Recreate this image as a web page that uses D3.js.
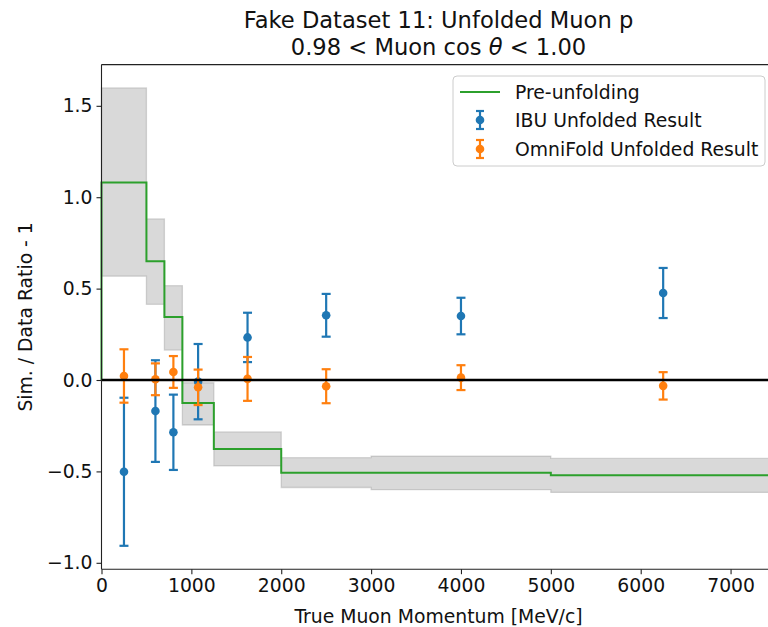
<!DOCTYPE html>
<html><head><meta charset="utf-8">
<script src="https://cdn.jsdelivr.net/npm/d3@7"></script>
<style>body{margin:0;background:#fff}svg{display:block}text{font-family:"DejaVu Sans",sans-serif}</style>
</head><body>
<svg id="c" width="768" height="627"></svg>
<script>
const edges = [0, 500, 700, 900, 1250, 2000, 3000, 5000, 7500];
const preUnfold = [1.08, 0.65, 0.345, -0.126, -0.378, -0.507, -0.507, -0.521];
const bandLow  = [0.568, 0.414, 0.164, -0.246, -0.470, -0.588, -0.600, -0.615];
const bandHigh = [1.598, 0.881, 0.516, -0.015, -0.284, -0.425, -0.416, -0.429];
const centers = [250, 600, 800, 1075, 1625, 2500, 4000, 6250];
const ibuVal = [-0.502, -0.170, -0.286, -0.009, 0.233, 0.354, 0.350, 0.476];
const ibuErr = [0.405, 0.278, 0.206, 0.206, 0.135, 0.117, 0.100, 0.137];
const omniVal = [0.022, 0.004, 0.044, -0.040, 0.006, -0.034, 0.013, -0.032];
const omniErr = [0.146, 0.087, 0.087, 0.097, 0.120, 0.093, 0.068, 0.075];
const xTicks = [0, 1000, 2000, 3000, 4000, 5000, 6000, 7000];
const yTicks = [-1.0, -0.5, 0.0, 0.5, 1.0, 1.5];

const svg = d3.select("#c");
const L = 101.5, R = 775.5, T = 64.6, B = 569.2;
const x = d3.scaleLinear().domain([0, 7500]).range([L, R]);
const y = d3.scaleLinear().domain([-1.035, 1.7255]).range([B, T]);
const FS = 18.8, TFS = 22.6;

const g = svg.append("g");
// band
const bandPts = [];
for (let i = 0; i < preUnfold.length; i++) { bandPts.push([edges[i], bandHigh[i]], [edges[i+1], bandHigh[i]]); }
for (let i = preUnfold.length - 1; i >= 0; i--) { bandPts.push([edges[i+1], bandLow[i]], [edges[i], bandLow[i]]); }
g.append("path")
  .attr("d", d3.line().x(d => x(d[0])).y(d => y(d[1]))(bandPts) + "Z")
  .attr("fill", "gray").attr("fill-opacity", 0.3)
  .attr("stroke", "gray").attr("stroke-opacity", 0.3).attr("stroke-width", 1.3);

// pre-unfolding stairs with baseline 0
const stairs = [[0, 0]];
for (let i = 0; i < preUnfold.length; i++) { stairs.push([edges[i], preUnfold[i]], [edges[i+1], preUnfold[i]]); }
stairs.push([edges[edges.length-1], 0]);
g.append("path")
  .attr("d", d3.line().x(d => x(d[0])).y(d => y(d[1]))(stairs))
  .attr("fill", "none").attr("stroke", "#2ca02c").attr("stroke-width", 2);

function errSeries(vals, errs, color) {
  const s = g.append("g");
  centers.forEach((c, i) => {
    const cx = x(c), y1 = y(vals[i] + errs[i]), y0 = y(vals[i] - errs[i]);
    s.append("line").attr("x1", cx).attr("x2", cx).attr("y1", y1).attr("y2", y0)
      .attr("stroke", color).attr("stroke-width", 2.2);
    [y0, y1].forEach(yy => s.append("line").attr("x1", cx - 4.5).attr("x2", cx + 4.5)
      .attr("y1", yy).attr("y2", yy).attr("stroke", color).attr("stroke-width", 2.2));
    s.append("circle").attr("cx", cx).attr("cy", y(vals[i])).attr("r", 4.3).attr("fill", color);
  });
}
errSeries(ibuVal, ibuErr, "#1f77b4");
errSeries(omniVal, omniErr, "#ff7f0e");

// zero line
g.append("line").attr("x1", L).attr("x2", R).attr("y1", y(0)).attr("y2", y(0))
  .attr("stroke", "black").attr("stroke-width", 2.6);

// axes
const fmt = d => d3.format(".1f")(d).replace("-", "\u2212");
const xa = svg.append("g").attr("transform", `translate(0,${B})`)
  .call(d3.axisBottom(x).tickValues(xTicks).tickSize(5).tickPadding(4).tickFormat(d3.format("d")));
const ya = svg.append("g").attr("transform", `translate(${L},0)`)
  .call(d3.axisLeft(y).tickValues(yTicks).tickSize(5).tickPadding(4).tickFormat(fmt));
[xa, ya].forEach(a => {
  a.select(".domain").remove();
  a.selectAll("line").attr("stroke", "#222").attr("stroke-width", 1.1);
  a.selectAll("text").attr("font-size", FS).attr("fill", "#111");
});
// spines
svg.append("path").attr("d", `M${L},${B}H${R}M${L},${B}V${T}M${L},${T}H${R}M${R},${T}V${B}`)
  .attr("stroke", "#222").attr("stroke-width", 1.1).attr("fill", "none");

// title
svg.append("text").attr("x", x(3750)).attr("y", 28).attr("text-anchor", "middle")
  .attr("font-size", TFS).attr("fill", "#111").text("Fake Dataset 11: Unfolded Muon p");
const t2 = svg.append("text").attr("x", x(3750)).attr("y", 55).attr("text-anchor", "middle")
  .attr("font-size", TFS).attr("fill", "#111");
t2.append("tspan").text("0.98 < Muon cos ");
t2.append("tspan").attr("font-style", "italic").text("\u03b8");
t2.append("tspan").text(" < 1.00");

// axis labels
svg.append("text").attr("x", x(3750)).attr("y", 623).attr("text-anchor", "middle")
  .attr("font-size", FS).attr("fill", "#111").text("True Muon Momentum [MeV/c]");
svg.append("text").attr("transform", `translate(32,${(T + B) / 2}) rotate(-90)`)
  .attr("text-anchor", "middle").attr("font-size", FS).attr("fill", "#111").text("Sim. / Data Ratio - 1");

// legend
const lg = svg.append("g");
lg.append("rect").attr("x", 453).attr("y", 76).attr("width", 312).attr("height", 90).attr("rx", 4)
  .attr("fill", "white").attr("fill-opacity", 0.8).attr("stroke", "#ccc").attr("stroke-width", 1);
lg.append("line").attr("x1", 460).attr("x2", 500).attr("y1", 92).attr("y2", 92)
  .attr("stroke", "#2ca02c").attr("stroke-width", 2);
[["IBU Unfolded Result", "#1f77b4", 120], ["OmniFold Unfolded Result", "#ff7f0e", 149]].forEach(([lab, col, yy]) => {
  lg.append("line").attr("x1", 480).attr("x2", 480).attr("y1", yy - 9).attr("y2", yy + 9).attr("stroke", col).attr("stroke-width", 2.2);
  [yy - 9, yy + 9].forEach(v => lg.append("line").attr("x1", 476).attr("x2", 484).attr("y1", v).attr("y2", v).attr("stroke", col).attr("stroke-width", 2.2));
  lg.append("circle").attr("cx", 480).attr("cy", yy).attr("r", 4.3).attr("fill", col);
  lg.append("text").attr("x", 515).attr("y", yy + 7).attr("font-size", FS).attr("fill", "#111").text(lab);
});
lg.append("text").attr("x", 515).attr("y", 99).attr("font-size", FS).attr("fill", "#111").text("Pre-unfolding");
</script>
</body></html>
